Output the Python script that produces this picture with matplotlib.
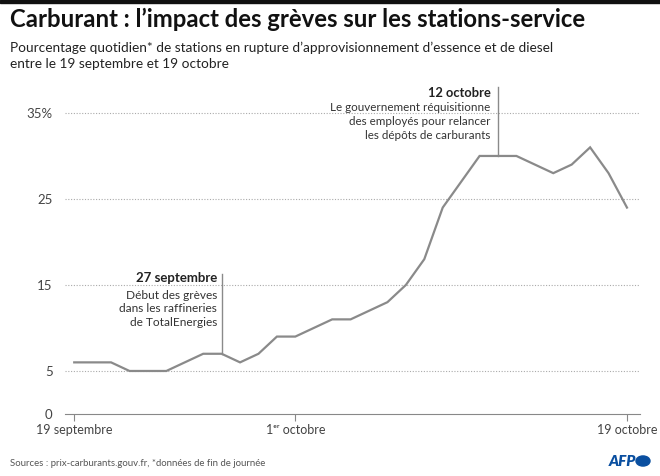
# Carburant : part des stations-service en rupture, 19 sept. - 19 oct.

import matplotlib
matplotlib.use("Agg")
import matplotlib.pyplot as plt
from matplotlib.patches import Rectangle, Circle

plt.rcParams['font.family'] = ['Lato', 'DejaVu Sans']

# Days from 19 September (index 0) to 19 October (index 30)
days = list(range(31))
pct = [6, 6, 6, 5, 5, 5, 6, 7, 7, 6, 7, 9,              # 19-30 sept
       9, 10, 11, 11, 12, 13, 15, 18, 24, 27, 30, 30,  # 1-12 oct
       30, 29, 28, 29, 31, 28, 24]                     # 13-19 oct

xtick_pos = [0, 12, 30]
xtick_labels = ["19 septembre", "1\u1d49\u02b3 octobre", "19 octobre"]
ytick_pos = [0, 5, 15, 25, 35]
ytick_labels = ["0", "5", "15", "25", "35%"]

grey_text = "#444444"
line_col = "#8a8a8a"

fig = plt.figure(figsize=(6.6, 4.76), dpi=100)
ax = fig.add_axes([0.0985, 0.1303, 0.871, 0.6866])

ax.plot(days, pct, color=line_col, lw=1.6, zorder=3, solid_joinstyle="miter")

ax.set_xlim(-0.5, 30.7)
ax.set_ylim(0, 38)

for y in ytick_pos[1:]:
    ax.axhline(y, color="#aaaaaa", lw=0.8, ls=(0, (1, 1.5)), zorder=1)

ax.set_yticks(ytick_pos)
ax.set_yticklabels(ytick_labels)
ax.set_xticks(xtick_pos)
ax.set_xticklabels(xtick_labels)
ax.tick_params(axis="y", length=0, pad=9, labelsize=9.5, labelcolor=grey_text)
ax.tick_params(axis="x", length=5, width=0.8, color="#888888", pad=2,
               labelsize=9, labelcolor=grey_text)

for s in ["top", "right", "left"]:
    ax.spines[s].set_visible(False)
ax.spines["bottom"].set_color("#888888")
ax.spines["bottom"].set_linewidth(0.8)

# Annotations
ax.plot([8, 8], [pct[8], 16.3], color=line_col, lw=1, clip_on=False, zorder=2)
ax.text(7.75, 15.8, "27 septembre", ha="right", va="center", fontsize=9.5,
        fontweight="bold", color="#222222")
ax.text(7.75, 14.4, "Début des grèves\ndans les raffineries\nde TotalEnergies",
        ha="right", va="top", fontsize=8.6, color="#333333", linespacing=1.25)

ax.plot([23, 23], [pct[23], 38.0], color=line_col, lw=1, clip_on=False, zorder=2)
ax.text(22.6, 37.3, "12 octobre", ha="right", va="center", fontsize=9.3,
        fontweight="bold", color="#222222")
ax.text(22.6, 36.25, "Le gouvernement réquisitionne\ndes employés pour relancer\nles dépôts de carburants",
        ha="right", va="top", fontsize=8.4, color="#333333", linespacing=1.32)

# Header
fig.patches.append(Rectangle((0, 1 - 3 / 476), 1, 3 / 476, transform=fig.transFigure,
                             color="#111111"))
fig.text(10 / 660, 1 - 19 / 476, "Carburant : l\u2019impact des grèves sur les stations-service",
         ha="left", va="center", fontsize=17.2, fontweight="bold", color="#111111")
fig.text(10 / 660, 1 - 48 / 476,
         "Pourcentage quotidien* de stations en rupture d\u2019approvisionnement d\u2019essence et de diesel",
         ha="left", va="center", fontsize=9.8, color="#222222")
fig.text(10 / 660, 1 - 64 / 476, "entre le 19 septembre et 19 octobre",
         ha="left", va="center", fontsize=9.8, color="#222222")

# Footer
fig.text(10 / 660, 1 - 463 / 476,
         "Sources : prix-carburants.gouv.fr, *données de fin de journée",
         ha="left", va="center", fontsize=6.9, color="#555555")
fig.text(636 / 660, 1 - 461 / 476, "AFP", ha="right", va="center", fontsize=11,
         fontweight="heavy", style="italic", color="#0a4fa0")
fig.patches.append(Circle((643 / 660, 1 - 461 / 476), 7 / 660, transform=fig.transFigure,
                          color="#0a4fa0"))

fig.savefig("out.png", dpi=100)
